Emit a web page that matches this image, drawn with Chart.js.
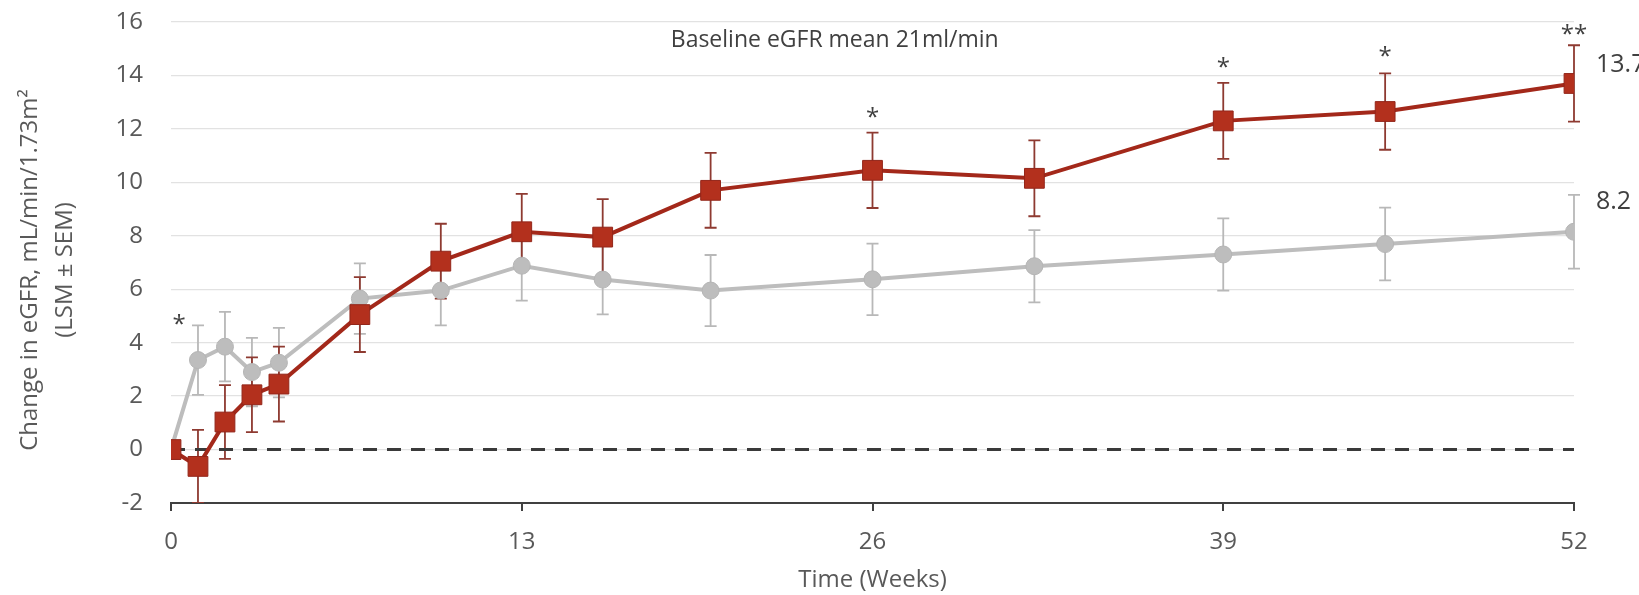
<!DOCTYPE html>
<html><head><meta charset="utf-8">
<script src="https://cdn.jsdelivr.net/npm/chart.js@4/dist/chart.umd.min.js"></script>
<style>html,body{margin:0;padding:0;background:#fff;overflow:hidden}#wrap{width:1639px;height:595px}</style>
</head><body><div id="wrap"><canvas id="c" width="1639" height="595"></canvas></div>
<script>
// ---- data ----
const weeks = [0, 1, 2, 3, 4, 7, 10, 13, 16, 20, 26, 32, 39, 45, 52];
const drugMean = [0, -0.63, 1.03, 2.05, 2.45, 5.05, 7.05, 8.15, 7.95, 9.7, 10.45, 10.15, 12.3, 12.65, 13.7];
const drugSem = [0, 1.37, 1.38, 1.4, 1.4, 1.4, 1.4, 1.42, 1.42, 1.4, 1.41, 1.42, 1.42, 1.43, 1.43];
const placeboMean = [0, 3.35, 3.85, 2.9, 3.25, 5.65, 5.95, 6.88, 6.36, 5.95, 6.37, 6.86, 7.3, 7.69, 8.15];
const placeboSem = [0, 1.3, 1.3, 1.28, 1.3, 1.32, 1.3, 1.31, 1.3, 1.33, 1.34, 1.35, 1.35, 1.36, 1.38];
const xTicks = [0, 13, 26, 39, 52];
const yMin = -2, yMax = 16, yStep = 2;
const sigWeeks = [0.3, 26, 39, 45, 52];
const sigY = [4.9, 12.65, 14.5, 14.9, 15.75];
const sigText = ['*', '*', '*', '*', '**'];
const endText = ['13.7', '8.2'];
const endY = [14.4, 9.26];
const chartTitle = 'Baseline eGFR mean 21ml/min';
const titlePos = [24.6, 15.3];
const yTitle = ['Change in eGFR, mL/min/1.73m\u00B2', '(LSM \u00B1 SEM)'];
const xTitle = 'Time (Weeks)';

const FONT = '"Open Sans", "DejaVu Sans", sans-serif';
const TXT = '#595959';

const pts = (ys) => weeks.map((w, i) => ({x: w, y: ys[i]}));

const errorBars = {
  id: 'errorBars',
  beforeDatasetsDraw(chart) {
    const xs = chart.scales.x, ys = chart.scales.y, ctx = chart.ctx, a = chart.chartArea;
    ctx.save();
    ctx.beginPath();
    ctx.rect(a.left - 10, a.top - 10, a.right - a.left + 20, a.bottom - a.top + 10);
    ctx.clip();
    const series = [[placeboMean, placeboSem, '#b8b8b8'], [drugMean, drugSem, '#8e3a31']];
    series.forEach(([m, s, col]) => {
      ctx.strokeStyle = col; ctx.lineWidth = 1.8;
      weeks.forEach((w, i) => {
        if (!s[i]) return;
        const x = xs.getPixelForValue(w);
        const y1 = ys.getPixelForValue(m[i] + s[i]);
        const y2 = ys.getPixelForValue(m[i] - s[i]);
        ctx.beginPath();
        ctx.moveTo(x, y1); ctx.lineTo(x, y2);
        ctx.moveTo(x - 6, y1); ctx.lineTo(x + 6, y1);
        ctx.moveTo(x - 6, y2); ctx.lineTo(x + 6, y2);
        ctx.stroke();
      });
    });
    ctx.restore();
  },
  afterDraw(chart) {
    const xs = chart.scales.x, ys = chart.scales.y, ctx = chart.ctx;
    ctx.save();
    // significance marks
    ctx.fillStyle = '#404040';
    ctx.font = '24px ' + FONT;
    ctx.textAlign = 'center'; ctx.textBaseline = 'alphabetic';
    sigWeeks.forEach((w, i) => {
      ctx.fillText(sigText[i], xs.getPixelForValue(w), ys.getPixelForValue(sigY[i]) + 13);
    });
    // end value labels
    ctx.fillStyle = '#404040';
    ctx.font = '25px ' + FONT;
    ctx.textAlign = 'left'; ctx.textBaseline = 'middle';
    endText.forEach((t, i) => {
      ctx.fillText(t, xs.getPixelForValue(52) + 22, ys.getPixelForValue(endY[i]));
    });
    // chart title
    ctx.fillStyle = '#404040';
    ctx.font = '23px ' + FONT;
    ctx.textAlign = 'center';
    ctx.fillText(chartTitle, xs.getPixelForValue(titlePos[0]), ys.getPixelForValue(titlePos[1]));
    // y axis title
    ctx.fillStyle = TXT;
    ctx.font = '24px ' + FONT;
    ctx.translate(0, 270);
    ctx.rotate(-Math.PI / 2);
    ctx.fillText(yTitle[0], 0, 30);
    ctx.fillText(yTitle[1], 0, 65);
    ctx.restore();
  }
};

new Chart(document.getElementById('c'), {
  type: 'line',
  data: {
    datasets: [
      {
        data: pts(drugMean),
        borderColor: '#a3281a', borderWidth: 4,
        pointStyle: 'rect', pointRadius: 14,
        pointBackgroundColor: '#b3301d', pointBorderColor: '#93261a', pointBorderWidth: 1,
        tension: 0
      },
      {
        data: pts(placeboMean),
        borderColor: '#bdbdbd', borderWidth: 4,
        pointStyle: 'circle', pointRadius: 8.5,
        pointBackgroundColor: '#bdbdbd', pointBorderColor: '#b5b5b5', pointBorderWidth: 1,
        tension: 0
      },
      {
        data: [{x: xTicks[0], y: 0}, {x: xTicks[xTicks.length - 1], y: 0}],
        borderColor: '#3a3a3a', borderWidth: 3, borderDash: [14, 10],
        pointRadius: 0
      }
    ]
  },
  options: {
    responsive: false, animation: false, devicePixelRatio: 1,
    layout: {padding: {top: 22, right: 65, left: 0, bottom: 0}},
    plugins: {legend: {display: false}, tooltip: {enabled: false}},
    scales: {
      x: {
        type: 'linear', min: xTicks[0], max: xTicks[xTicks.length - 1],
        afterBuildTicks: (s) => { s.ticks = xTicks.map(v => ({value: v})); },
        afterFit: (s) => { s.height = 92; },
        ticks: {color: TXT, font: {size: 24, family: FONT}, padding: 17, maxRotation: 0, autoSkip: false},
        grid: {drawOnChartArea: false, drawTicks: true, tickLength: 8, color: '#404040', lineWidth: 2},
        border: {display: true, color: '#404040', width: 2},
        title: {display: true, text: xTitle, color: TXT, font: {size: 24, family: FONT}, padding: {top: 0, bottom: 0}}
      },
      y: {
        min: yMin, max: yMax,
        ticks: {stepSize: yStep, color: TXT, font: {size: 24, family: FONT}, padding: 28},
        afterFit: (s) => { s.width = 171; s.paddingTop = 10; s.paddingBottom = 10; },
        grid: {color: '#e2e2e2', lineWidth: 1.3, drawTicks: false},
        border: {display: false}
      }
    }
  },
  plugins: [errorBars]
});
</script>
</body></html>
